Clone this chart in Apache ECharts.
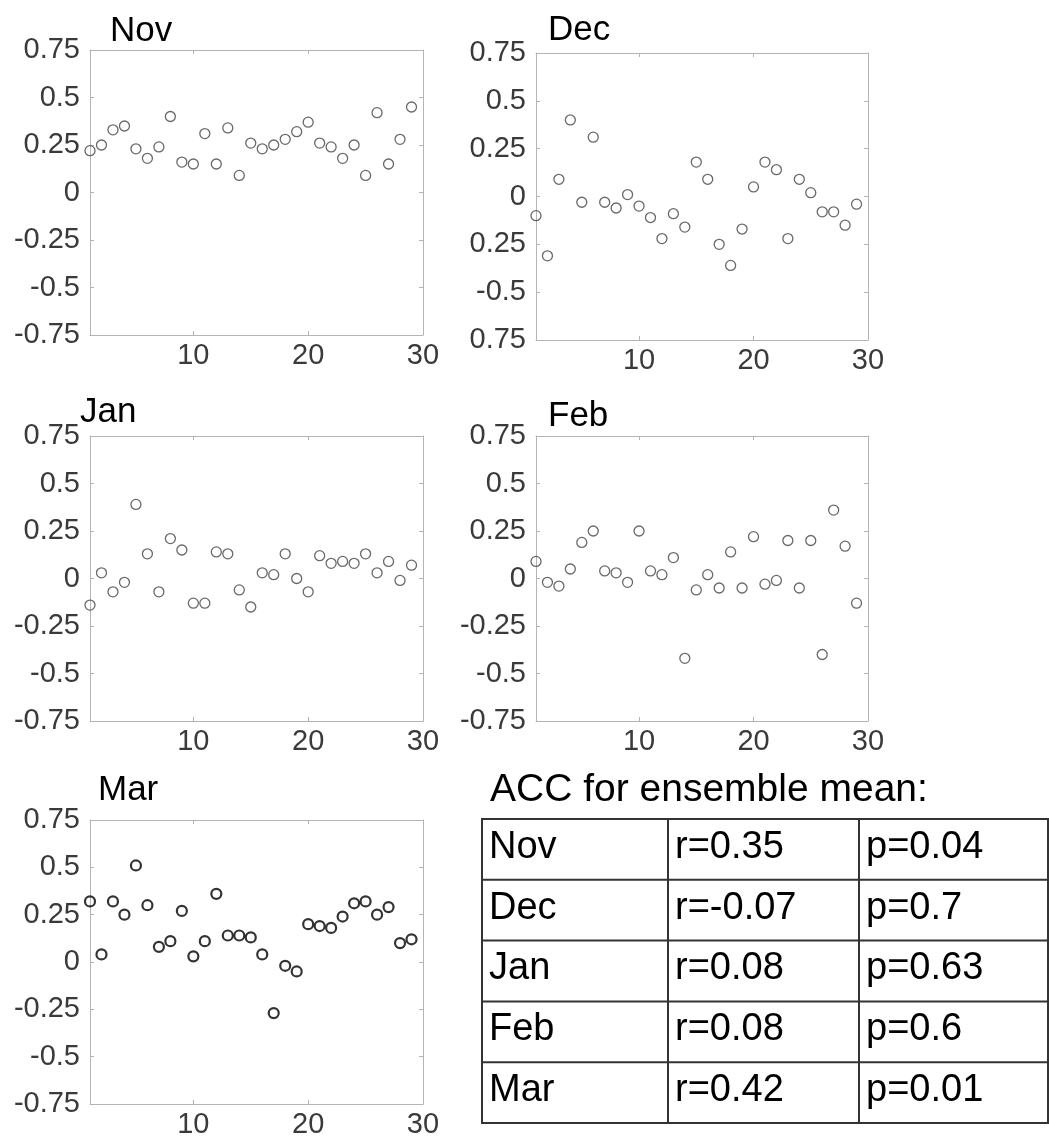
<!DOCTYPE html>
<html>
<head>
<meta charset="utf-8">
<title>ACC per month</title>
<script src="https://cdn.jsdelivr.net/npm/echarts@6/dist/echarts.min.js"></script>
<style>
  html, body { margin: 0; padding: 0; background: #fff; }
  #chart { width: 1049px; height: 1142px; }
</style>
</head>
<body>
<div id="chart"></div>
<script>
// === DATA ===
const days = [1, 2, 3, 4, 5, 6, 7, 8, 9, 10, 11, 12, 13, 14, 15, 16, 17, 18, 19, 20, 21, 22, 23, 24, 25, 26, 27, 28, 29];

const novValues = [0.22, 0.25, 0.33, 0.35, 0.23, 0.18, 0.24, 0.40, 0.16, 0.15, 0.31, 0.15, 0.34, 0.09, 0.26,
                   0.23, 0.25, 0.28, 0.32, 0.37, 0.26, 0.24, 0.18, 0.25, 0.09, 0.42, 0.15, 0.28, 0.45];
const decValues = [-0.10, -0.31, 0.09, 0.40, -0.03, 0.31, -0.03, -0.06, 0.01, -0.05, -0.11, -0.22, -0.09, -0.16, 0.18,
                   0.09, -0.25, -0.36, -0.17, 0.05, 0.18, 0.14, -0.22, 0.09, 0.02, -0.08, -0.08, -0.15, -0.04];
const janValues = [-0.14, 0.03, -0.07, -0.02, 0.39, 0.13, -0.07, 0.21, 0.15, -0.13, -0.13, 0.14, 0.13, -0.06, -0.15,
                   0.03, 0.02, 0.13, 0.00, -0.07, 0.12, 0.08, 0.09, 0.08, 0.13, 0.03, 0.09, -0.01, 0.07];
const febValues = [0.09, -0.02, -0.04, 0.05, 0.19, 0.25, 0.04, 0.03, -0.02, 0.25, 0.04, 0.02, 0.11, -0.42, -0.06,
                   0.02, -0.05, 0.14, -0.05, 0.22, -0.03, -0.01, 0.20, -0.05, 0.20, -0.40, 0.36, 0.17, -0.13];
const marValues = [0.32, 0.04, 0.32, 0.25, 0.51, 0.30, 0.08, 0.11, 0.27, 0.03, 0.11, 0.36, 0.14, 0.14, 0.13,
                   0.04, -0.27, -0.02, -0.05, 0.20, 0.19, 0.18, 0.24, 0.31, 0.32, 0.25, 0.29, 0.10, 0.12];

const xTicks = [10, 20, 30];
const yTickLabels = ['-0.75', '-0.5', '-0.25', '0', '0.25', '0.5', '0.75'];
// the Dec panel lost some minus signs in the original figure
const decYTickLabels = ['0.75', '-0.5', '0.25', '0', '0.25', '0.5', '0.75'];

const months = ['Nov', 'Dec', 'Jan', 'Feb', 'Mar'];
const rValues = [0.35, -0.07, 0.08, 0.08, 0.42];
const pValues = [0.04, 0.7, 0.63, 0.6, 0.01];
const tableTitle = 'ACC for ensemble mean:';

// === LAYOUT ===
const FONT = '"Liberation Sans", Arial, Helvetica, sans-serif';
const panels = [
    { name: 'Nov', values: novValues, yLabels: yTickLabels, grid: [90, 50, 333, 285], title: [110, 14], color: '#444', width: 1.3 },
    { name: 'Dec', values: decValues, yLabels: decYTickLabels, grid: [536, 53, 332, 287], title: [548, 13], color: '#444', width: 1.3 },
    { name: 'Jan', values: janValues, yLabels: yTickLabels, grid: [90, 436, 333, 285], title: [80, 395], color: '#444', width: 1.3 },
    { name: 'Feb', values: febValues, yLabels: yTickLabels, grid: [536, 436, 332, 285], title: [548, 399], color: '#444', width: 1.3 },
    { name: 'Mar', values: marValues, yLabels: yTickLabels, grid: [90, 820, 333, 284], title: [98, 773], color: '#000', width: 2.2 }
];

const boxColor = '#b4b4b4';
const labelColor = '#3a3a3a';

const grids = [], xAxes = [], yAxes = [], series = [], titles = [];
panels.forEach((p, i) => {
    grids.push({ left: p.grid[0], top: p.grid[1], width: p.grid[2], height: p.grid[3], containLabel: false });
    titles.push({
        text: p.name, left: p.title[0], top: p.title[1], padding: 0,
        textStyle: { fontFamily: FONT, fontSize: 35, fontWeight: 'normal', color: '#000' }
    });
    const baseX = {
        type: 'value', gridIndex: i, min: 1, max: 30,
        splitLine: { show: false },
        axisLine: { show: true, onZero: false, lineStyle: { color: boxColor, width: 1 } },
        axisTick: { show: true, inside: true, length: 4, customValues: xTicks, lineStyle: { color: boxColor } }
    };
    xAxes.push(Object.assign({}, baseX, {
        position: 'bottom',
        axisLabel: { show: true, customValues: xTicks, margin: 6, fontFamily: FONT, fontSize: 29, color: labelColor }
    }));
    xAxes.push(Object.assign({}, baseX, { position: 'top', axisLabel: { show: false } }));

    const baseY = {
        type: 'value', gridIndex: i, min: -0.75, max: 0.75, interval: 0.25,
        splitLine: { show: false },
        axisLine: { show: true, onZero: false, lineStyle: { color: boxColor, width: 1 } },
        axisTick: { show: true, inside: true, length: 4, lineStyle: { color: boxColor } }
    };
    yAxes.push(Object.assign({}, baseY, {
        position: 'left',
        axisLabel: {
            show: true, margin: 10, fontFamily: FONT, fontSize: 29, color: labelColor,
            formatter: (v) => p.yLabels[Math.round((v + 0.75) / 0.25)]
        }
    }));
    yAxes.push(Object.assign({}, baseY, { position: 'right', axisLabel: { show: false } }));

    series.push({
        type: 'scatter',
        xAxisIndex: 2 * i,
        yAxisIndex: 2 * i,
        symbol: 'circle',
        symbolSize: 10,
        clip: false,
        itemStyle: { color: 'rgba(0,0,0,0)', borderColor: p.color, borderWidth: p.width },
        emphasis: { disabled: true },
        data: days.map((d, k) => [d, p.values[k]])
    });
});

// === TABLE (graphic) ===
const tableLeft = 482, tableRight = 1048, tableTop = 819, rowH = 60.8;
const colX = [tableLeft, 668, 859];
const tableColor = '#333';
const tableElements = [];
tableElements.push({
    type: 'text',
    style: { text: tableTitle, x: 490, y: 790, font: '39px ' + FONT, fill: '#000', verticalAlign: 'middle', align: 'left' }
});
tableElements.push({
    type: 'rect',
    shape: { x: tableLeft, y: tableTop, width: tableRight - tableLeft, height: rowH * months.length },
    style: { fill: 'none', stroke: tableColor, lineWidth: 2 }
});
colX.slice(1).forEach((x) => {
    tableElements.push({
        type: 'line',
        shape: { x1: x, y1: tableTop, x2: x, y2: tableTop + rowH * months.length },
        style: { stroke: tableColor, lineWidth: 2 }
    });
});
months.forEach((m, i) => {
    const y = tableTop + rowH * i;
    if (i > 0) {
        tableElements.push({
            type: 'line',
            shape: { x1: tableLeft, y1: y, x2: tableRight, y2: y },
            style: { stroke: tableColor, lineWidth: 2 }
        });
    }
    const cells = [m, 'r=' + rValues[i], 'p=' + pValues[i]];
    cells.forEach((txt, c) => {
        tableElements.push({
            type: 'text',
            style: {
                text: txt, x: colX[c] + 7, y: y + rowH / 2 - 2,
                font: '38px ' + FONT, fill: '#000', verticalAlign: 'middle', align: 'left'
            }
        });
    });
});

const chart = echarts.init(document.getElementById('chart'), null, { renderer: 'canvas' });
chart.setOption({
    backgroundColor: '#fff',
    animation: false,
    title: titles,
    grid: grids,
    xAxis: xAxes,
    yAxis: yAxes,
    series: series,
    graphic: tableElements
});
window.addEventListener('resize', () => chart.resize());
</script>
</body>
</html>
